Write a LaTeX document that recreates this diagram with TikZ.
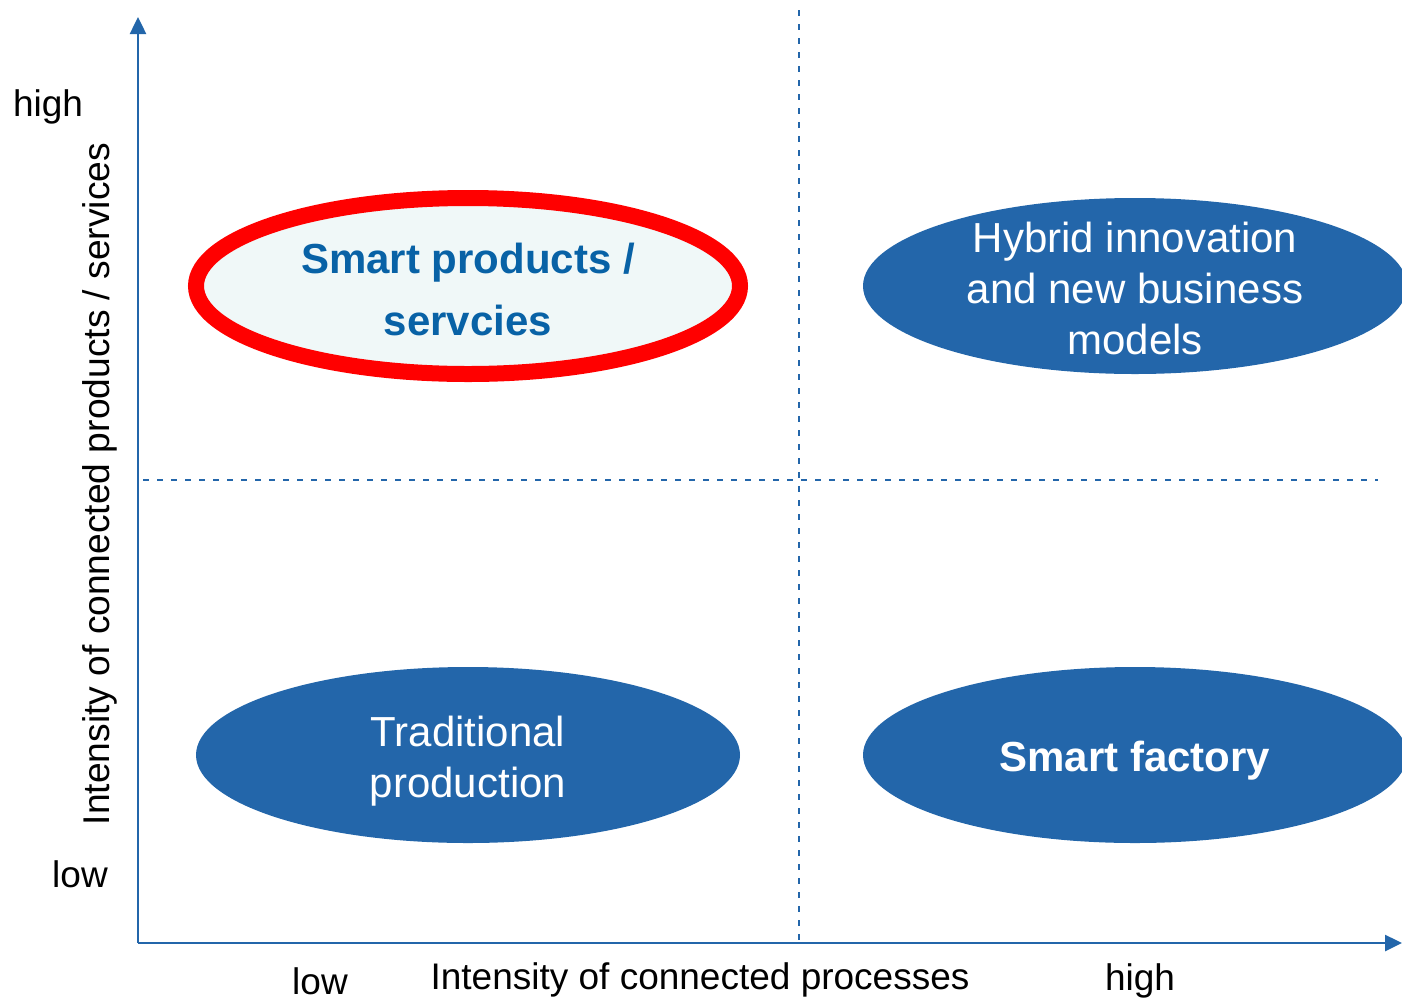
\documentclass[tikz,border=0pt]{standalone}
\usepackage{fontspec}
\setmainfont{Liberation Sans}
\usetikzlibrary{arrows.meta,shapes.geometric}
\definecolor{axblue}{RGB}{35,102,170}
\definecolor{txtblue}{RGB}{8,98,166}
\definecolor{lightfill}{RGB}{240,248,248}
\tikzset{
  axis/.style={draw=axblue, line width=2.5pt, -{Triangle[width=16pt,length=17pt]}},
  divider/.style={draw=axblue, line width=2pt, dash pattern=on 6pt off 8pt},
  blob/.style={ellipse, minimum width=544pt, minimum height=176pt, inner sep=0pt, fill=axblue},
  hilite/.style={ellipse, minimum width=544pt, minimum height=176pt, inner sep=0pt, fill=lightfill, draw=red, line width=16pt},
  axlabel/.style={font=\fontsize{37}{44}\selectfont, inner sep=0pt},
  wtext/.style={text=white, align=center, inner sep=0pt, font=\fontsize{42}{51}\selectfont},
}
\begin{document}
\begin{tikzpicture}[x=1pt,y=-1pt]
\useasboundingbox (0,0) rectangle (1402,1002);
\clip (0,0) rectangle (1402,1002);
% ellipses
\node[hilite] (sp) at (468,286) {};
\node[blob] (hy) at (1135,286) {};
\node[blob] (tp) at (468,755) {};
\node[blob] (sf) at (1135,755) {};
% texts
\node[align=center, inner sep=0pt, text=txtblue, font=\fontsize{42}{62}\selectfont\bfseries] (spt) at (468,289) {Smart products /\\servcies};
\node[wtext] (hyt) at (1135,288) {Hybrid innovation\\and new business\\models};
\node[wtext] (tpt) at (468,761) {Traditional\\production};
\node[wtext, font=\fontsize{42}{51}\selectfont\bfseries] (sft) at (1135,761) {Smart factory};
% axes
\coordinate (o) at (138,943);
\coordinate (ytop) at (138,17);
\coordinate (xend) at (1402,943);
\draw[axis] (o) -- (ytop);
\draw[axis] (o) -- (xend);
% dividers
\coordinate (vtop) at (799,10);
\coordinate (vbot) at (799,943);
\coordinate (hl) at (143,480);
\coordinate (hr) at (1378,480);
\draw[divider] (vtop) -- (vbot);
\draw[divider] (hl) -- (hr);
% labels
\node[axlabel] (yhigh) at (48,107) {high};
\node[axlabel] (ylow) at (80,874) {low};
\node[axlabel] (xlow) at (320,981) {low};
\node[axlabel] (xhigh) at (1140,981) {high};
\node[axlabel] (xlab) at (700,980) {Intensity of connected processes};
\node[axlabel, font=\fontsize{37.2}{44}\selectfont, rotate=90] (ylab) at (100,484) {Intensity of connected products / services};
\end{tikzpicture}
\end{document}
